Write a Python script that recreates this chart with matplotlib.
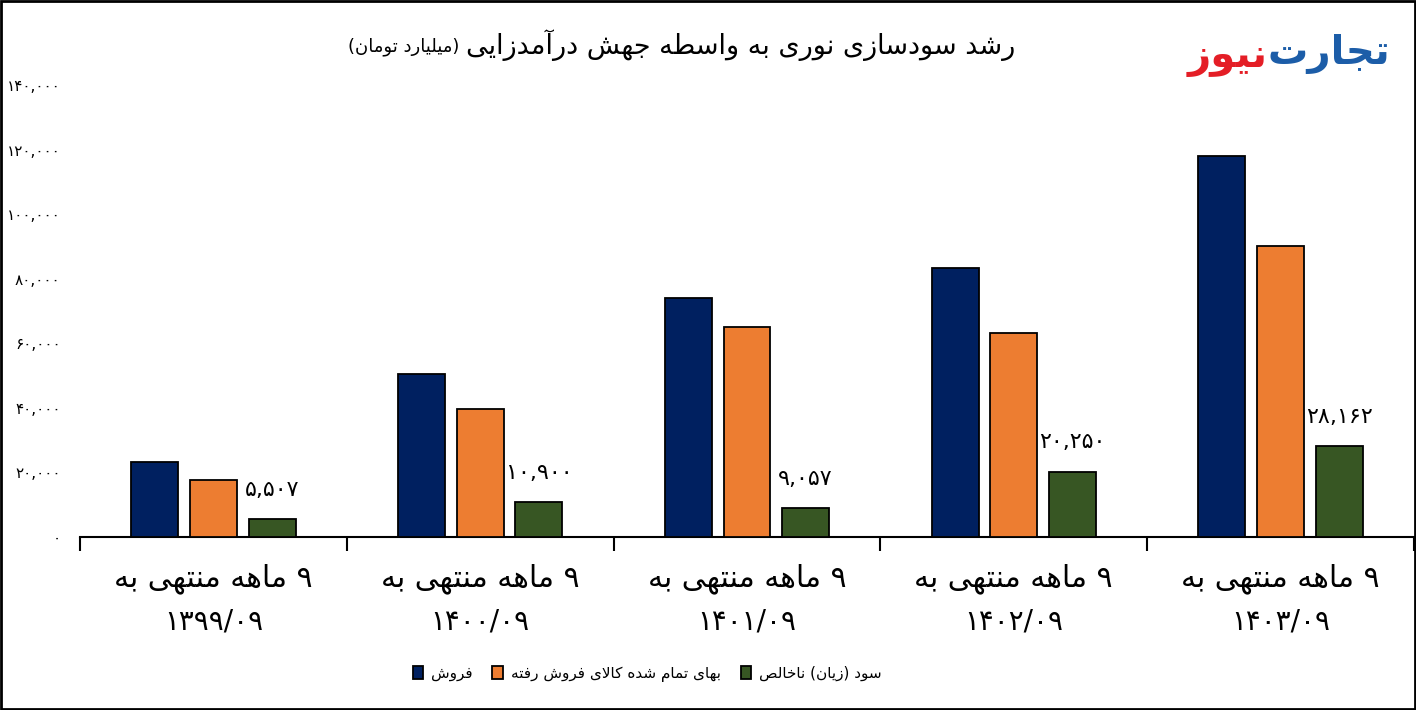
import numpy as np
import matplotlib
matplotlib.use("Agg")
import matplotlib.pyplot as plt
import matplotlib.patches as mpatches
from matplotlib.transforms import blended_transform_factory

plt.rcParams['font.family'] = ['DejaVu Sans']

# داده ها
periods = ["۱۳۹۹/۰۹", "۱۴۰۰/۰۹", "۱۴۰۱/۰۹", "۱۴۰۲/۰۹", "۱۴۰۳/۰۹"]
period_prefix = "۹ ماهه منتهی به"
sales = [23200, 50500, 74000, 83300, 118000]
cogs = [17700, 39600, 65000, 63200, 90100]
gross_profit = [5507, 10900, 9057, 20250, 28162]
series_names = ["فروش", "بهای تمام شده کالای فروش رفته", "سود (زیان) ناخالص"]
series_colors = ["#002060", "#ED7D31", "#375623"]
y_ticks = [0, 20000, 40000, 60000, 80000, 100000, 120000, 140000]
title_main = "رشد سودسازی نوری به واسطه جهش درآمدزایی"
title_unit = "(میلیارد تومان)"

FORMS = {
    'ا': ('\uFE8D', '\uFE8E'), 'آ': ('\uFE81', '\uFE82'),
    'ب': ('\uFE8F', '\uFE90', '\uFE91', '\uFE92'),
    'ت': ('\uFE95', '\uFE96', '\uFE97', '\uFE98'),
    'ج': ('\uFE9D', '\uFE9E', '\uFE9F', '\uFEA0'),
    'خ': ('\uFEA5', '\uFEA6', '\uFEA7', '\uFEA8'),
    'د': ('\uFEA9', '\uFEAA'), 'ر': ('\uFEAD', '\uFEAE'),
    'ز': ('\uFEAF', '\uFEB0'),
    'س': ('\uFEB1', '\uFEB2', '\uFEB3', '\uFEB4'),
    'ش': ('\uFEB5', '\uFEB6', '\uFEB7', '\uFEB8'),
    'ص': ('\uFEB9', '\uFEBA', '\uFEBB', '\uFEBC'),
    'ط': ('\uFEC1', '\uFEC2', '\uFEC3', '\uFEC4'),
    'ف': ('\uFED1', '\uFED2', '\uFED3', '\uFED4'),
    'ل': ('\uFEDD', '\uFEDE', '\uFEDF', '\uFEE0'),
    'م': ('\uFEE1', '\uFEE2', '\uFEE3', '\uFEE4'),
    'ن': ('\uFEE5', '\uFEE6', '\uFEE7', '\uFEE8'),
    'ه': ('\uFEE9', '\uFEEA', '\uFEEB', '\uFEEC'),
    'و': ('\uFEED', '\uFEEE'),
    'ی': ('\uFBFC', '\uFBFD', '\uFBFE', '\uFBFF'),
    'ک': ('\uFB8E', '\uFB8F', '\uFB90', '\uFB91'),
    '\uE000': ('\uFEFB', '\uFEFC'),  # لا
}


# شکل دادن حروف فارسی و راست به چپ
def fa(s):
    s = s.replace('لا', '\uE000')
    out = []
    for i, ch in enumerate(s):
        f = FORMS.get(ch)
        if f is None:
            out.append(ch)
            continue
        prev = s[i - 1] if i > 0 else ''
        nxt = s[i + 1] if i + 1 < len(s) else ''
        jp = len(FORMS.get(prev, ())) == 4
        jn = len(f) == 4 and nxt in FORMS
        if jp and jn:
            out.append(f[3])
        elif jp:
            out.append(f[1])
        elif jn:
            out.append(f[2])
        else:
            out.append(f[0])
    return ''.join(reversed(out)).translate(str.maketrans('()', ')('))


def fa_num(v):
    return f"{v:,}".translate(str.maketrans('0123456789', '۰۱۲۳۴۵۶۷۸۹'))


fig = plt.figure(figsize=(14.16, 7.10), dpi=100)
ax = fig.add_axes([80 / 1416, 173 / 710, 1334 / 1416, 452 / 710])

x = np.arange(len(periods))
w = 0.176
off = 0.22
for k, vals in enumerate([sales, cogs, gross_profit]):
    ax.bar(x + (k - 1) * off, vals, w, color=series_colors[k], edgecolor='black',
           linewidth=1.3, label=fa(series_names[k]), zorder=3)

for xi, v in zip(x, gross_profit):
    ax.annotate(fa_num(v), (xi + off, v), xytext=(0, 21), textcoords='offset points',
                ha='center', va='center', fontsize=16)

ax.set_xlim(-0.5, 4.5)
ax.set_ylim(0, 140000)
ax.set_yticks(y_ticks)
ax.set_yticklabels([fa_num(v) for v in y_ticks], fontsize=11)
ax.tick_params(axis='y', length=0, pad=14)
ax.set_xticks(np.arange(-0.5, 5, 1))
ax.set_xticklabels([])
ax.tick_params(axis='x', length=10, width=1.5, direction='out')
for sp in ['top', 'right', 'left']:
    ax.spines[sp].set_visible(False)
ax.spines['bottom'].set_linewidth(1.5)

tr = blended_transform_factory(ax.transData, fig.transFigure)
for xi, p in zip(x, periods):
    ax.text(xi, 1 - 579 / 710, fa(period_prefix), transform=tr, ha='center', va='center', fontsize=21.5)
    ax.text(xi, 1 - 621 / 710, p, transform=tr, ha='center', va='center', fontsize=20)

fig.text(1015 / 1416, 1 - 45 / 710, fa(title_main), ha='right', va='center', fontsize=19.5)
fig.text(459 / 1416, 1 - 47 / 710, fa(title_unit), ha='right', va='center', fontsize=13)

# لوگو
fig.text(1390 / 1416, 1 - 54 / 710, fa("تجارت"), ha='right', va='center', fontsize=29,
         fontweight='bold', color='#1C5DA8')
fig.text(1268 / 1416, 1 - 57 / 710, fa("نیوز"), ha='right', va='center', fontsize=29,
         fontweight='bold', color='#E41E26')

fig.legend(loc='center', bbox_to_anchor=(0.457, 1 - 674 / 710), ncol=3, frameon=False,
           fontsize=11, handlelength=0.7, handleheight=0.9, columnspacing=1.3, handletextpad=0.5)

fig.patches.append(mpatches.Rectangle((0.0005, 0.001), 0.999, 0.998, transform=fig.transFigure,
                                      fill=False, edgecolor='black', linewidth=2))

fig.savefig("out.png", dpi=100)
